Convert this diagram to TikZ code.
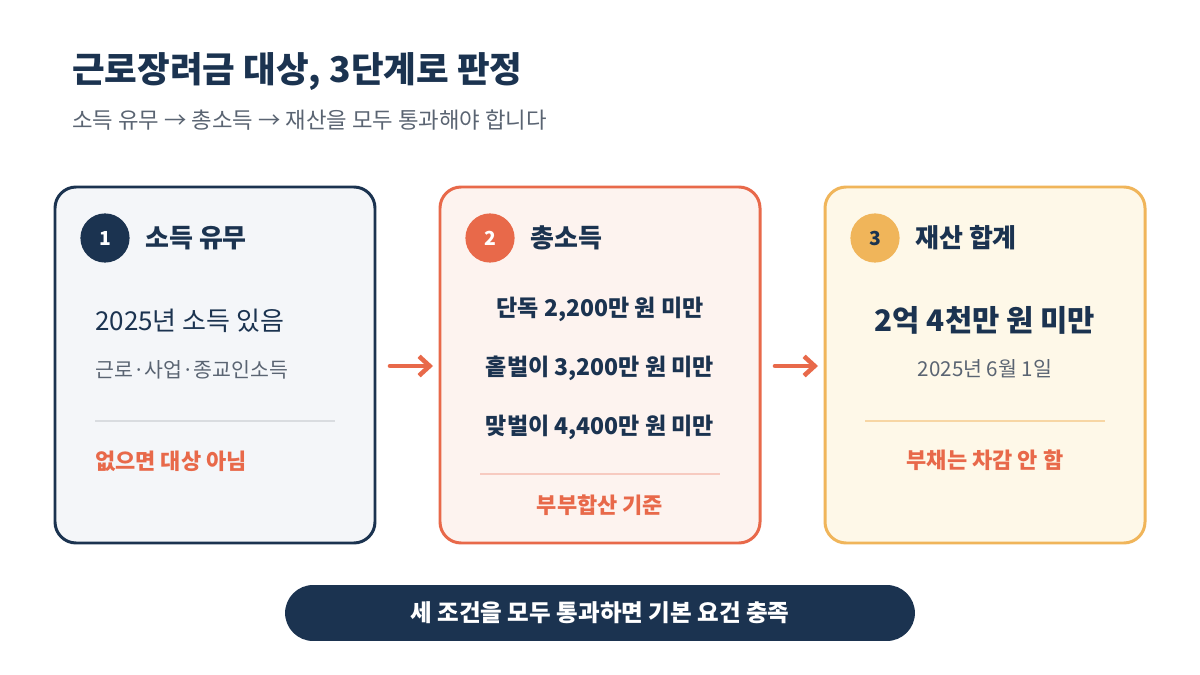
\documentclass[tikz,border=0pt]{standalone}
\usepackage{fontspec}
\setmainfont{Noto Sans CJK KR}
\usetikzlibrary{positioning,arrows.meta}
\definecolor{navy}{HTML}{1B3350}
\definecolor{coral}{HTML}{E8694A}
\definecolor{amber}{HTML}{F0B55A}
\definecolor{graytxt}{HTML}{5A6472}
\definecolor{fillA}{HTML}{F4F6F9}
\definecolor{fillB}{HTML}{FDF3EF}
\definecolor{fillC}{HTML}{FEF8E8}
\definecolor{rule}{HTML}{D9DCE0}
\tikzset{
    card/.style={draw, line width=1.7pt, rounded corners=12pt},
    badge/.style={circle, minimum size=28pt, inner sep=0pt, font=\bfseries\fontsize{11}{13}\selectfont},
    head/.style={anchor=west, text=navy, font=\bfseries\fontsize{14.8}{17}\selectfont},
    body/.style={text=navy, font=\fontsize{14.8}{17}\selectfont},
    strong/.style={text=navy, font=\bfseries\fontsize{13.1}{15}\selectfont},
    note/.style={text=graytxt, font=\fontsize{11.7}{14}\selectfont},
    warn/.style={text=coral, font=\bfseries\fontsize{12.5}{15}\selectfont},
    flow/.style={draw=coral, line width=2.6pt, -{Straight Barb[length=6pt,width=11pt]}, line cap=round}
}

\begin{document}
\begin{tikzpicture}[x=0.02cm, y=-0.02cm]
\useasboundingbox (0,0) rectangle (1200,675);
\fill[white] (0,0) rectangle (1200,675);

% title
\node[anchor=west, text=navy, font=\bfseries\fontsize{20.2}{23}\selectfont] (title) at (66,72) {근로장려금 대상, 3단계로 판정};
\node[anchor=west, text=graytxt, font=\fontsize{12.7}{15}\selectfont] (sub) at (66,120) {소득 유무 → 총소득 → 재산을 모두 통과해야 합니다};

% cards
\draw[card, draw=navy, fill=fillA] (55,187) rectangle (375,543);
\draw[card, draw=coral, fill=fillB] (440,187) rectangle (760,543);
\draw[card, draw=amber, fill=fillC] (825,187) rectangle (1145,543);

% card 1
\node[badge, fill=navy, text=white] (b1) at (105,238) {1};
\node[head] (h1) at (139,238) {소득 유무};
\node[body, anchor=west] (c1a) at (89,321) {2025년 소득 있음};
\node[note, anchor=west] (c1b) at (89,370) {근로·사업·종교인소득};
\draw[rule, line width=0.8pt] (95,421) -- (335,421);
\node[warn, anchor=west] (c1c) at (89,461) {없으면 대상 아님};

% card 2
\node[badge, fill=coral, text=white] (b2) at (490,238) {2};
\node[head] (h2) at (524,238) {총소득};
\node[strong] (c2a) at (600,309) {단독 2,200만 원 미만};
\node[strong] (c2b) at (600,368) {홑벌이 3,200만 원 미만};
\node[strong] (c2c) at (600,427) {맞벌이 4,400만 원 미만};
\draw[coral!35, line width=0.8pt] (480,474) -- (720,474);
\node[warn] (c2d) at (600,505) {부부합산 기준};

% card 3
\node[badge, fill=amber, text=navy] (b3) at (875,238) {3};
\node[head] (h3) at (909,238) {재산 합계};
\node[text=navy, font=\bfseries\fontsize{16.9}{20}\selectfont] (c3a) at (985,320) {2억 4천만 원 미만};
\node[note] (c3b) at (985,369) {2025년 6월 1일};
\draw[amber!55, line width=0.8pt] (865,421) -- (1105,421);
\node[warn] (c3c) at (985,460) {부채는 차감 안 함};

% arrows
\coordinate (a1s) at (390,366); \coordinate (a1e) at (433,366);
\coordinate (a2s) at (775,366); \coordinate (a2e) at (818,366);
\draw[flow] (a1s) -- (a1e);
\draw[flow] (a2s) -- (a2e);

% footer
\node[fill=navy, text=white, rounded corners=16pt, minimum width=12.6cm, minimum height=1.12cm,
      font=\bfseries\fontsize{13.4}{16}\selectfont] (foot) at (600,613) {세 조건을 모두 통과하면 기본 요건 충족};
\end{tikzpicture}
\end{document}
